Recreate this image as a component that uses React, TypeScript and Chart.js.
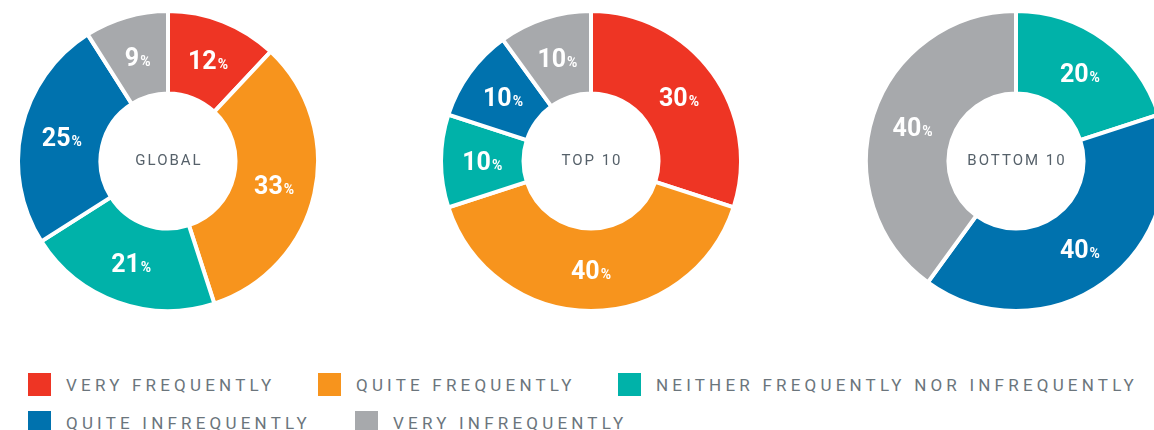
import React, { useEffect, useRef } from "react";
import { Chart, registerables } from "chart.js";

Chart.register(...registerables);

const categories = [
  "VERY FREQUENTLY",
  "QUITE FREQUENTLY",
  "NEITHER FREQUENTLY NOR INFREQUENTLY",
  "QUITE INFREQUENTLY",
  "VERY INFREQUENTLY",
];
const colors = ["#EE3524", "#F7941D", "#00B2A9", "#0072AE", "#A7A9AC"];
const globalValues = [12, 33, 21, 25, 9];
const top10Values = [30, 40, 10, 10, 10];
const bottom10Values = [0, 0, 20, 40, 40];
const donutTitles = ["GLOBAL", "TOP 10", "BOTTOM 10"];

const FONT = "Roboto, 'Noto Sans', sans-serif";

const labelPlugin = {
  id: "donutLabels",
  afterDatasetsDraw(chart: any, _args: any, opts: any) {
    const ctx = chart.ctx;
    const meta = chart.getDatasetMeta(0);
    const data = chart.data.datasets[0].data as number[];
    ctx.save();
    ctx.fillStyle = "#ffffff";
    ctx.textBaseline = "alphabetic";
    meta.data.forEach((arc: any, i: number) => {
      const v = data[i];
      if (!v) return;
      const p = arc.tooltipPosition();
      const num = String(v);
      ctx.font = `bold 25px ${FONT}`;
      const w1 = ctx.measureText(num).width;
      ctx.font = `bold 14px ${FONT}`;
      const w2 = ctx.measureText("%").width;
      const x0 = p.x - (w1 + w2 + 1) / 2;
      const base = p.y + 9;
      ctx.font = `bold 25px ${FONT}`;
      ctx.textAlign = "left";
      ctx.fillText(num, x0, base);
      ctx.font = `bold 14px ${FONT}`;
      ctx.fillText("%", x0 + w1 + 1, base);
    });
    const ca = chart.chartArea;
    const cx = (ca.left + ca.right) / 2;
    const cy = (ca.top + ca.bottom) / 2;
    ctx.fillStyle = "#56616a";
    ctx.font = `15px ${FONT}`;
    (ctx as any).letterSpacing = "2px";
    ctx.textAlign = "center";
    ctx.textBaseline = "middle";
    ctx.fillText(opts.title || "", cx + 1, cy);
    ctx.restore();
  },
};

function Donut({ values, title, left, top }: { values: number[]; title: string; left: number; top: number }) {
  const ref = useRef<HTMLCanvasElement | null>(null);
  useEffect(() => {
    if (!ref.current) return;
    const chart = new Chart(ref.current, {
      type: "doughnut",
      data: {
        labels: categories,
        datasets: [
          {
            data: values,
            backgroundColor: colors,
            borderColor: "#ffffff",
            borderWidth: 4,
            hoverOffset: 0,
          },
        ],
      },
      options: {
        animation: false,
        responsive: false,
        cutout: "45%",
        layout: { padding: 0 },
        plugins: {
          legend: { display: false },
          tooltip: { enabled: false },
          donutLabels: { title },
        } as any,
      },
      plugins: [labelPlugin],
    });
    return () => chart.destroy();
  }, [values, title]);
  return (
    <canvas
      ref={ref}
      width={304}
      height={304}
      style={{ position: "absolute", left, top, width: 304, height: 304 }}
    />
  );
}

const legendPos = [
  { x: 28, y: 373 },
  { x: 318, y: 373 },
  { x: 618, y: 373 },
  { x: 28, y: 411 },
  { x: 355, y: 411 },
];

export default function App() {
  return (
    <div
      style={{
        position: "absolute",
        left: 0,
        top: 0,
        width: 1154,
        height: 430,
        overflow: "hidden",
        background: "#ffffff",
        fontFamily: FONT,
      }}
    >
      <Donut values={globalValues} title={donutTitles[0]} left={16} top={9} />
      <Donut values={top10Values} title={donutTitles[1]} left={439} top={9} />
      <Donut values={bottom10Values} title={donutTitles[2]} left={864} top={9} />
      {categories.map((c, i) => (
        <div
          key={c}
          style={{
            position: "absolute",
            left: legendPos[i].x,
            top: legendPos[i].y,
            display: "flex",
            alignItems: "center",
            height: 23,
            whiteSpace: "nowrap",
          }}
        >
          <div style={{ width: 23, height: 23, background: colors[i], marginRight: 15 }} />
          <span style={{ fontSize: 17, letterSpacing: "4.2px", color: "#6b757c" }}>{c}</span>
        </div>
      ))}
    </div>
  );
}
